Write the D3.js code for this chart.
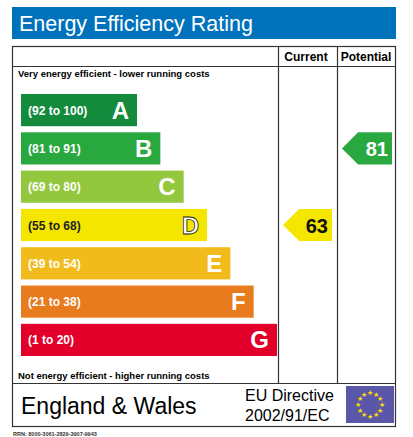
<!DOCTYPE html>
<html><head><meta charset="utf-8">
<script src="https://cdn.jsdelivr.net/npm/d3@7"></script>
<style>body{margin:0;background:#fff}text{font-family:Arial,"Liberation Sans",sans-serif}</style>
</head><body>
<script>
const bands = ["A", "B", "C", "D", "E", "F", "G"];
const ranges = ["(92 to 100)", "(81 to 91)", "(69 to 80)", "(55 to 68)", "(39 to 54)", "(21 to 38)", "(1 to 20)"];
const lows = [92, 81, 69, 55, 39, 21, 1];
const colours = ["#138a3c", "#2aa840", "#93c83e", "#f5e600", "#f2bb1c", "#e87b1e", "#e2002b"];
const current = 63, potential = 81;

const svg = d3.select("body").append("svg").attr("width", 413).attr("height", 437);
const y = d3.scaleBand().domain(bands).range([94, 356]).paddingInner(0.16).paddingOuter(0);
const xEnd = d3.scaleLinear().domain([0, 6]).range([137, 277]);
const bandOf = v => bands[lows.findIndex(l => v >= l)];

// title
svg.append("rect").attr("x", 12).attr("y", 7).attr("width", 384).attr("height", 32).attr("fill", "#0072bc");
svg.append("text").attr("x", 19).attr("y", 31).attr("fill", "#fff").attr("font-size", 21.5).text("Energy Efficiency Rating");

// frame
const g = svg.append("g").attr("stroke", "#333").attr("stroke-width", 1.2).attr("fill", "none");
g.append("rect").attr("x", 12.5).attr("y", 46.5).attr("width", 383).attr("height", 380);
g.append("line").attr("x1", 12).attr("x2", 396).attr("y1", 66.5).attr("y2", 66.5);
g.append("line").attr("x1", 12).attr("x2", 396).attr("y1", 383.5).attr("y2", 383.5);
g.append("line").attr("x1", 278.5).attr("x2", 278.5).attr("y1", 46).attr("y2", 383);
g.append("line").attr("x1", 337.5).attr("x2", 337.5).attr("y1", 46).attr("y2", 383);
svg.append("text").attr("x", 306).attr("y", 61).attr("text-anchor", "middle").attr("font-size", 12).attr("font-weight", "bold").text("Current");
svg.append("text").attr("x", 366).attr("y", 61).attr("text-anchor", "middle").attr("font-size", 12).attr("font-weight", "bold").text("Potential");
svg.append("text").attr("x", 18).attr("y", 77).attr("font-size", 9.5).attr("font-weight", "bold").text("Very energy efficient - lower running costs");
svg.append("text").attr("x", 18).attr("y", 379).attr("font-size", 9.5).attr("font-weight", "bold").text("Not energy efficient - higher running costs");

// bars
const bar = svg.selectAll("g.bar").data(bands).join("g").attr("class", "bar");
bar.append("rect").attr("x", 21).attr("y", d => y(d)).attr("width", (d, i) => xEnd(i) - 21)
  .attr("height", y.bandwidth()).attr("fill", (d, i) => colours[i]);
bar.append("text").attr("x", 28).attr("y", d => y(d) + y.bandwidth() / 2 + 4.5)
  .attr("font-size", 12).attr("font-weight", "bold").attr("fill", (d, i) => i === 3 ? "#222" : "#fff").text((d, i) => ranges[i]);
bar.append("text").attr("x", (d, i) => xEnd(i) - 8).attr("y", d => y(d) + y.bandwidth() / 2 + 8.5)
  .attr("text-anchor", "end").attr("font-size", 24).attr("font-weight", "bold")
  .attr("fill", "#fff").attr("stroke", (d, i) => i === 3 ? "#222" : "none").attr("stroke-width", 0.8).text(d => d);

// arrows
function arrow(v, x0, x1) {
  const b = bandOf(v), i = bands.indexOf(b), top = y(b), h = y.bandwidth();
  svg.append("path").attr("fill", colours[i])
    .attr("d", `M${x0},${top + h / 2}L${x0 + h / 2},${top}H${x1}V${top + h}H${x0 + h / 2}Z`);
  svg.append("text").attr("x", x1 - 4).attr("y", top + h / 2 + 7.5).attr("text-anchor", "end")
    .attr("font-size", 20).attr("font-weight", "bold").attr("fill", i === 3 ? "#111" : "#fff").text(v);
}
arrow(current, 283, 332);
arrow(potential, 342, 392);

// footer
svg.append("text").attr("x", 21).attr("y", 414).attr("font-size", 23).text("England & Wales");
svg.append("text").attr("x", 245).attr("y", 401).attr("font-size", 16).text("EU Directive");
svg.append("text").attr("x", 245).attr("y", 421).attr("font-size", 16).text("2002/91/EC");
svg.append("rect").attr("x", 346).attr("y", 386).attr("width", 48).attr("height", 37).attr("fill", "#5a56a8");
d3.range(12).forEach(k => {
  const a = k * Math.PI / 6;
  svg.append("text").attr("x", 370 + 12 * Math.sin(a)).attr("y", 404.5 - 12 * Math.cos(a) + 2.5)
    .attr("text-anchor", "middle").attr("font-size", 7).attr("fill", "#ffde00").text("★");
});
svg.append("text").attr("x", 13).attr("y", 436).attr("font-size", 5.5).attr("font-weight", "bold").attr("fill", "#333").text("RRN: 8000-3061-2829-3907-9943");
</script>
</body></html>
